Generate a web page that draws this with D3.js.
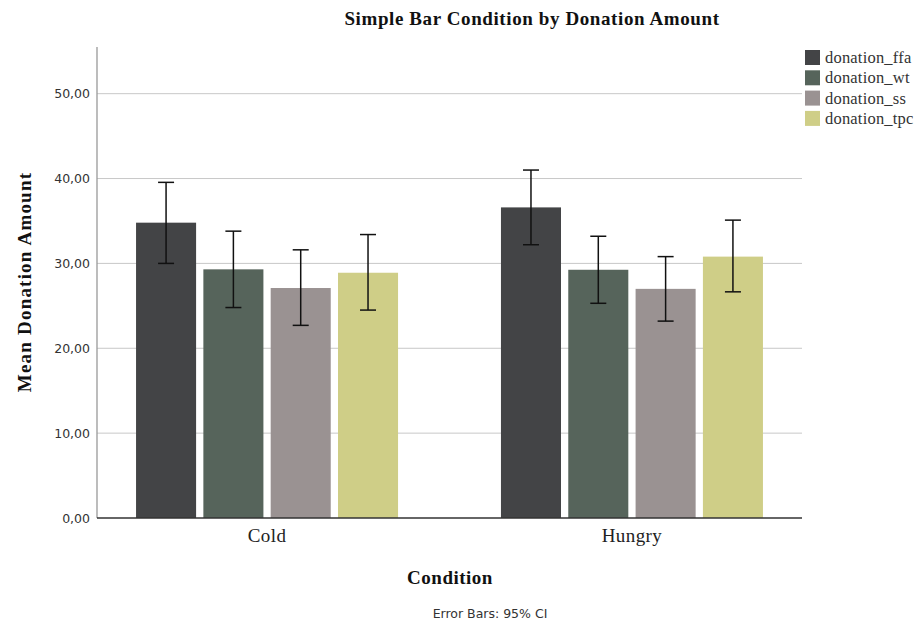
<!DOCTYPE html>
<html>
<head>
<meta charset="utf-8">
<script src="https://cdn.jsdelivr.net/npm/d3@7"></script>
<style>
  body { margin: 0; background: #fff; }
  svg { display: block; }
</style>
</head>
<body>
<div id="chart"></div>
<script>
const conditions = ['Cold', 'Hungry']
const series = ['donation_ffa', 'donation_wt', 'donation_ss', 'donation_tpc']
const colors = ['#434446', '#56645b', '#9a9292', '#cfce87']
// mean per condition, in series order
const means = [
  [34.8, 29.3, 27.1, 28.9],
  [36.6, 29.25, 27.0, 30.8]
]
// 95% CI lower / upper
const ciLow = [
  [30.0, 24.8, 22.7, 24.5],
  [32.2, 25.3, 23.2, 26.65]
]
const ciHigh = [
  [39.55, 33.8, 31.6, 33.4],
  [41.0, 33.2, 30.8, 35.1]
]
const yTicks = [0, 10, 20, 30, 40, 50]

const w = 922
const h = 626
const plotLeft = 97, plotRight = 802, plotTop = 47, plotBottom = 518

const svg = d3.select('#chart')
  .append('svg')
  .attr('width', w)
  .attr('height', h)

const yScale = d3.scaleLinear()
  .domain([0, 55.5])
  .range([plotBottom, plotTop])

const xScale = d3.scaleBand()
  .domain(conditions)
  .range([plotLeft, plotRight])
  .paddingInner(0.282)
  .paddingOuter(0.107)

const xInner = d3.scaleBand()
  .domain(series)
  .range([0, xScale.bandwidth()])
  .paddingInner(0.108)
  .paddingOuter(0)

const color = d3.scaleOrdinal().domain(series).range(colors)

// gridlines
svg.append('g')
  .selectAll('line')
  .data(yTicks.filter(t => t > 0))
  .enter()
  .append('line')
  .attr('x1', plotLeft)
  .attr('x2', plotRight)
  .attr('y1', d => yScale(d))
  .attr('y2', d => yScale(d))
  .attr('stroke', '#c8c8c8')
  .attr('stroke-width', 1)

// y axis
const yAxis = svg.append('g')
  .attr('transform', 'translate(' + plotLeft + ',0)')
  .call(d3.axisLeft(yScale)
    .tickValues(yTicks)
    .tickSize(0)
    .tickPadding(7)
    .tickFormat(d => d3.format('.2f')(d).replace('.', ',')))
yAxis.select('.domain').remove()
yAxis.selectAll('text')
  .attr('font-family', 'DejaVu Sans, sans-serif')
  .attr('font-size', 12.5)
  .attr('fill', '#333')

svg.append('line')
  .attr('x1', plotLeft).attr('x2', plotLeft)
  .attr('y1', plotTop).attr('y2', plotBottom)
  .attr('stroke', '#999')
  .attr('stroke-width', 1.3)

// bars
const rows = []
conditions.forEach((c, i) => {
  series.forEach((s, j) => {
    rows.push({ c: c, s: s, v: means[i][j], lo: ciLow[i][j], hi: ciHigh[i][j] })
  })
})

const groups = svg.append('g')
  .selectAll('g')
  .data(rows)
  .enter()
  .append('g')
  .attr('transform', d => 'translate(' + (xScale(d.c) + xInner(d.s)) + ',0)')

groups.append('rect')
  .attr('x', 0)
  .attr('y', d => yScale(d.v))
  .attr('width', xInner.bandwidth())
  .attr('height', d => yScale(0) - yScale(d.v))
  .attr('fill', d => color(d.s))

const mid = xInner.bandwidth() / 2
const cap = 8
groups.append('line')
  .attr('x1', mid).attr('x2', mid)
  .attr('y1', d => yScale(d.lo))
  .attr('y2', d => yScale(d.hi))
  .attr('stroke', '#111').attr('stroke-width', 1.5)
groups.append('line')
  .attr('x1', mid - cap).attr('x2', mid + cap)
  .attr('y1', d => yScale(d.hi)).attr('y2', d => yScale(d.hi))
  .attr('stroke', '#111').attr('stroke-width', 1.5)
groups.append('line')
  .attr('x1', mid - cap).attr('x2', mid + cap)
  .attr('y1', d => yScale(d.lo)).attr('y2', d => yScale(d.lo))
  .attr('stroke', '#111').attr('stroke-width', 1.5)

// x axis
const xAxis = svg.append('g')
  .attr('transform', 'translate(0,' + plotBottom + ')')
  .call(d3.axisBottom(xScale).tickSize(0).tickPadding(11))
xAxis.select('.domain').remove()
xAxis.selectAll('text')
  .attr('font-family', 'Liberation Serif, serif')
  .attr('font-size', 19)
  .attr('letter-spacing', 0.4)
  .attr('fill', '#222')

svg.append('line')
  .attr('x1', plotLeft).attr('x2', plotRight)
  .attr('y1', plotBottom).attr('y2', plotBottom)
  .attr('stroke', '#333')
  .attr('stroke-width', 1.5)

// titles
svg.append('text')
  .attr('x', 532).attr('y', 25)
  .attr('text-anchor', 'middle')
  .attr('font-family', 'Liberation Serif, serif')
  .attr('font-weight', 'bold')
  .attr('font-size', 19)
  .attr('letter-spacing', 0.6)
  .attr('fill', '#111')
  .text('Simple Bar Condition by Donation Amount')

svg.append('text')
  .attr('transform', 'translate(31,282) rotate(-90)')
  .attr('text-anchor', 'middle')
  .attr('font-family', 'Liberation Serif, serif')
  .attr('font-weight', 'bold')
  .attr('font-size', 19)
  .attr('letter-spacing', 1.2)
  .attr('fill', '#111')
  .text('Mean Donation Amount')

svg.append('text')
  .attr('x', 450).attr('y', 584)
  .attr('text-anchor', 'middle')
  .attr('font-family', 'Liberation Serif, serif')
  .attr('font-weight', 'bold')
  .attr('font-size', 19)
  .attr('letter-spacing', 0.5)
  .attr('fill', '#111')
  .text('Condition')

svg.append('text')
  .attr('x', 490).attr('y', 618)
  .attr('text-anchor', 'middle')
  .attr('font-family', 'DejaVu Sans, sans-serif')
  .attr('font-size', 12.5)
  .attr('fill', '#333')
  .text('Error Bars: 95% CI')

// legend
const legend = svg.append('g')
  .selectAll('g')
  .data(series)
  .enter()
  .append('g')
  .attr('transform', (d, i) => 'translate(805,' + (50 + i * 20.3) + ')')

legend.append('rect')
  .attr('width', 15).attr('height', 15)
  .attr('fill', d => color(d))

legend.append('text')
  .attr('x', 20).attr('y', 13)
  .attr('font-family', 'Liberation Serif, serif')
  .attr('font-size', 16.5)
  .attr('letter-spacing', 0.2)
  .attr('fill', '#333')
  .text(d => d)
</script>
</body>
</html>
